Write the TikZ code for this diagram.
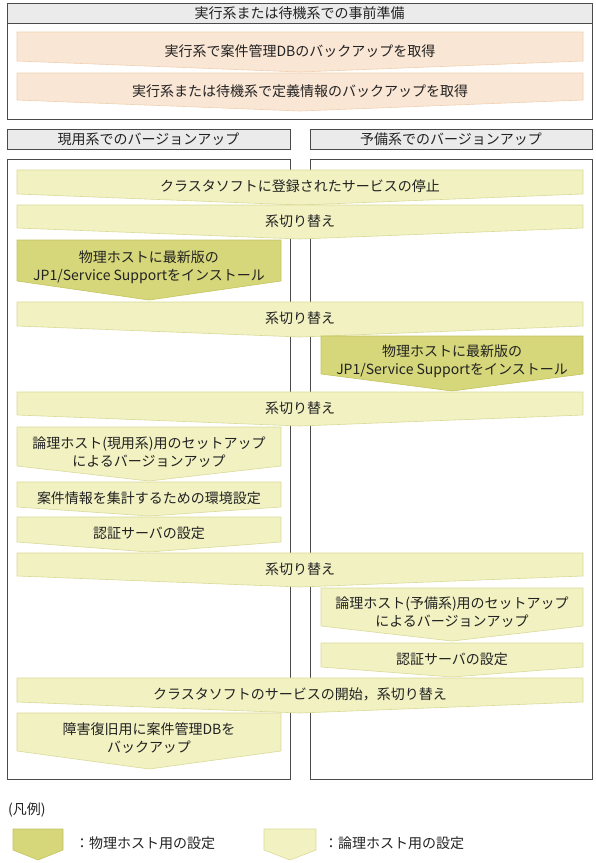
\documentclass[tikz,border=0pt]{standalone}
\usepackage{fontspec}
\setmainfont{Noto Sans CJK JP}
\definecolor{framegray}{HTML}{4A4A4A}
\definecolor{hdrgray}{HTML}{EBEBEB}
\definecolor{lightfill}{HTML}{F1F1C2}
\definecolor{lightdraw}{HTML}{DADA98}
\definecolor{darkfill}{HTML}{D6D67A}
\definecolor{darkdraw}{HTML}{C4C45E}
\definecolor{orngfill}{HTML}{FAE6D4}
\definecolor{orngdraw}{HTML}{EFD0B0}
\definecolor{txtcol}{HTML}{222222}
\tikzset{
  frame/.style={draw=framegray, line width=0.9pt},
  hdr/.style={draw=framegray, fill=hdrgray, line width=0.9pt},
  light/.style={draw=lightdraw, fill=lightfill, line width=0.6pt},
  dark/.style={draw=darkdraw, fill=darkfill, line width=0.6pt},
  orng/.style={draw=orngdraw, fill=orngfill, line width=0.6pt},
  txt/.style={font=\fontsize{14}{18}\selectfont, text=txtcol, inner sep=0pt, align=center},
}
% style, x1, x2, top, side bottom, tip, name, text
\newcommand\flowstep[8]{%
  \draw[#1] (#2,#4) -- (#3,#4) -- (#3,#5) -- ({(#2+#3)/2},#6) -- (#2,#5) -- cycle;
  \node[txt] (#7) at ({(#2+#3)/2},{(#4+(#5+#6)/2)/2+1.5}) {#8};}
\begin{document}
\begin{tikzpicture}[x=1pt,y=-1pt]
\useasboundingbox (0,0) rectangle (596,863);
% top section
\draw[frame] (7,3) rectangle (592,119);
\draw[hdr] (7,3) rectangle (592,23);
\node[txt] (hTop) at (299.5,13.5) {実行系または待機系での事前準備};
\flowstep{orng}{17}{583}{32}{61}{72}{o1}{実行系で案件管理DBのバックアップを取得}
\flowstep{orng}{17}{583}{73}{100}{111}{o2}{実行系または待機系で定義情報のバックアップを取得}
% column headers
\draw[hdr] (7,129) rectangle (290,149);
\node[txt] (hL) at (148.5,139) {現用系でのバージョンアップ};
\draw[hdr] (310,129) rectangle (592,149);
\node[txt] (hR) at (451,139) {予備系でのバージョンアップ};
% column bodies
\draw[frame] (7,159) rectangle (290,779);
\draw[frame] (310,159) rectangle (592,779);
% steps
\flowstep{light}{17}{583}{170}{194}{205}{w1}{クラスタソフトに登録されたサービスの停止}
\flowstep{light}{17}{583}{205}{228}{239}{w2}{系切り替え}
\flowstep{dark}{17}{281}{240}{281}{300}{l1}{物理ホストに最新版の\\JP1/Service Supportをインストール}
\flowstep{light}{17}{583}{302}{326}{337}{w3}{系切り替え}
\flowstep{dark}{321}{583}{336}{374}{391}{r1}{物理ホストに最新版の\\JP1/Service Supportをインストール}
\flowstep{light}{17}{583}{392}{415}{426}{w4}{系切り替え}
\flowstep{light}{17}{281}{427}{466}{481}{l2}{論理ホスト(現用系)用のセットアップ\\によるバージョンアップ}
\flowstep{light}{17}{281}{482}{507}{516}{l3}{案件情報を集計するための環境設定}
\flowstep{light}{17}{281}{517}{542}{552}{l4}{認証サーバの設定}
\flowstep{light}{17}{583}{553}{576}{587}{w5}{系切り替え}
\flowstep{light}{321}{583}{588}{626}{641}{r2}{論理ホスト(予備系)用のセットアップ\\によるバージョンアップ}
\flowstep{light}{321}{583}{643}{667}{677}{r3}{認証サーバの設定}
\flowstep{light}{17}{583}{678}{702}{713}{w6}{クラスタソフトのサービスの開始，系切り替え}
\flowstep{light}{17}{281}{713}{751}{769}{l5}{障害復旧用に案件管理DBを\\バックアップ}
% legend
\node[txt, anchor=west] (lgTitle) at (8,810) {(凡例)};
\draw[dark] (13,829) -- (63,829) -- (63,850) -- (38,860) -- (13,850) -- cycle;
\node[txt, anchor=west] (lgDark) at (75,843) {：物理ホスト用の設定};
\draw[light] (264,829) -- (316,829) -- (316,850) -- (290,860) -- (264,850) -- cycle;
\node[txt, anchor=west] (lgLight) at (324,843) {：論理ホスト用の設定};
\end{tikzpicture}
\end{document}
